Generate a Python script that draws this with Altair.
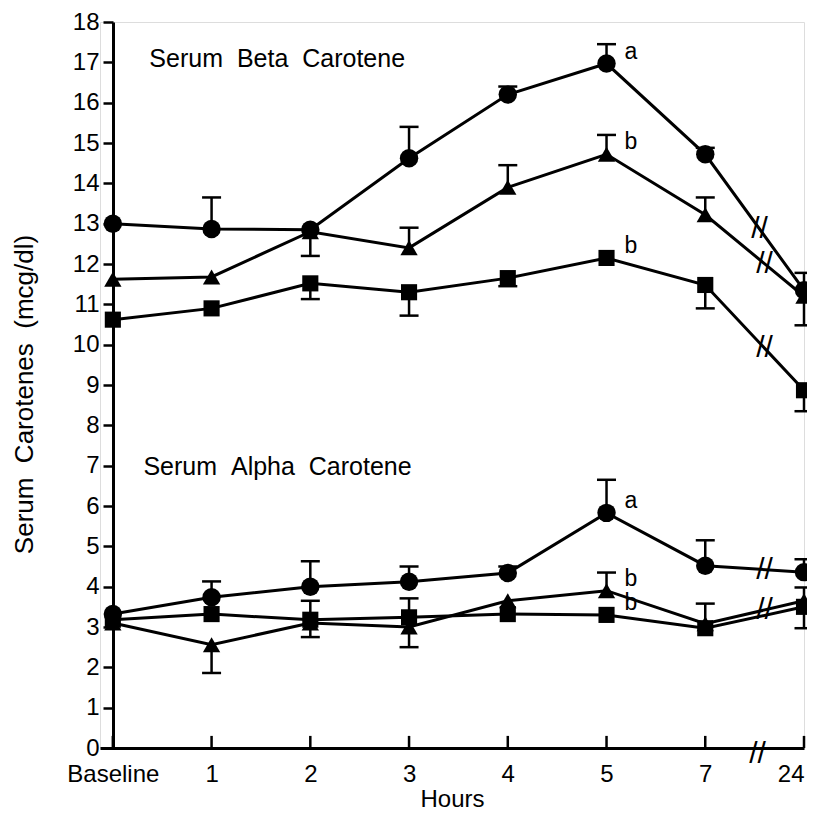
import json
import altair as alt
import pandas as pd

# ---------------- data ----------------
hours = ["Baseline", "1", "2", "3", "4", "5", "7", "24"]

beta_circle = [13.0, 12.87, 12.85, 14.62, 16.2, 16.97, 14.72, 11.35]
beta_triangle = [11.62, 11.68, 12.8, 12.4, 13.9, 14.72, 13.22, 11.2]
beta_square = [10.62, 10.9, 11.52, 11.3, 11.65, 12.15, 11.48, 8.87]

alpha_circle = [3.32, 3.74, 4.0, 4.12, 4.34, 5.83, 4.52, 4.36]
alpha_triangle = [3.1, 2.56, 3.1, 3.0, 3.65, 3.9, 3.08, 3.65]
alpha_square = [3.18, 3.32, 3.18, 3.24, 3.32, 3.3, 2.97, 3.5]

# error bar ends (None = no bar on that side)
beta_circle_hi = [None, 13.65, None, 15.4, 16.4, 17.45, 14.88, 11.78]
beta_circle_lo = [None, None, None, None, None, None, None, 10.48]
beta_triangle_hi = [None, None, None, 12.9, 14.45, 15.2, 13.65, None]
beta_triangle_lo = [None, None, 12.2, None, None, None, None, None]
beta_square_hi = [None, None, None, None, None, None, None, None]
beta_square_lo = [None, None, 11.13, 10.72, 11.45, None, 10.9, 8.35]

alpha_circle_hi = [None, 4.13, 4.63, 4.5, 4.5, 6.65, 5.15, 4.68]
alpha_circle_lo = [None, None, None, None, None, None, None, None]
alpha_triangle_hi = [None, None, 3.65, 3.71, None, 4.35, 3.58, 3.98]
alpha_triangle_lo = [None, 1.86, 2.75, 2.5, None, None, None, 2.97]
alpha_square_hi = [None, None, None, None, None, None, None, None]
alpha_square_lo = [None, None, None, None, None, None, None, None]

# significance letters at 5 h
letter_series = ["beta_circle", "beta_triangle", "beta_square",
                 "alpha_circle", "alpha_triangle", "alpha_square"]
letter_text = ["a", "b", "b", "a", "b", "b"]

# series whose 7 h -> 24 h segment carries a "//" axis-break mark,
# and where along that segment it sits
break_series = ["beta_circle", "beta_triangle", "beta_square",
                "alpha_circle", "alpha_triangle"]
break_frac = [0.55, 0.6, 0.6, 0.6, 0.6]

# ---------------- tables ----------------
series = [
    ("beta_circle", "circle", beta_circle, beta_circle_hi, beta_circle_lo),
    ("beta_triangle", "triangle", beta_triangle, beta_triangle_hi, beta_triangle_lo),
    ("beta_square", "square", beta_square, beta_square_hi, beta_square_lo),
    ("alpha_circle", "circle", alpha_circle, alpha_circle_hi, alpha_circle_lo),
    ("alpha_triangle", "triangle", alpha_triangle, alpha_triangle_hi, alpha_triangle_lo),
    ("alpha_square", "square", alpha_square, alpha_square_hi, alpha_square_lo),
]

pts, bars, caps, breaks = [], [], [], []
vals_by_name = {}
for name, shape, vals, his, los in series:
    vals_by_name[name] = vals
    for i, v in enumerate(vals):
        pts.append({"series": name, "shape": shape, "x": i, "y": v})
        hi, lo = his[i], los[i]
        if hi is not None or lo is not None:
            bars.append({"series": name, "x": i,
                         "lo": lo if lo is not None else v,
                         "hi": hi if hi is not None else v})
        if hi is not None:
            caps.append({"x": i, "y": hi})
        if lo is not None:
            caps.append({"x": i, "y": lo})

for name, t in zip(break_series, break_frac):
    vals = vals_by_name[name]
    breaks.append({"x": 6 + t, "y": vals[6] + t * (vals[7] - vals[6])})
breaks.append({"x": 6.53, "y": -0.15})

letters = [{"x": 5, "y": vals_by_name[s][5], "t": l, "s": s}
           for s, l in zip(letter_series, letter_text)]

df_pts = pd.DataFrame(pts)
df_bars = pd.DataFrame(bars)
df_caps = pd.DataFrame(caps)
df_breaks = pd.DataFrame(breaks)
df_letters = pd.DataFrame(letters)
df_ticks = pd.DataFrame({"x": list(range(len(hours))), "y": 0.0, "y2": 0.3})

GAP = "\u00a0\u00a0"
df_titles = pd.DataFrame({
    "t": [f"Serum{GAP}Beta{GAP}Carotene", f"Serum{GAP}Alpha{GAP}Carotene"],
    "x": [0.37, 0.31], "y": [17.08, 6.96]})

FONT = "Liberation Sans"
label_expr = json.dumps(hours) + "[round(datum.value)]"


def X(field):
    return alt.X(f"{field}:Q",
                 scale=alt.Scale(domain=[-0.13, 7], nice=False, zero=False),
                 axis=alt.Axis(values=list(range(len(hours))), labelExpr=label_expr,
                               ticks=False, grid=False, domainColor="black",
                               domainWidth=3, labelFont=FONT, labelFontSize=24,
                               labelColor="black", labelPadding=14,
                               title="Hours", titleFont=FONT, titleFontSize=24,
                               titleFontWeight="normal", titleColor="black",
                               titlePadding=1))


def Y(field):
    return alt.Y(f"{field}:Q",
                 scale=alt.Scale(domain=[0, 18], nice=False, zero=False),
                 axis=alt.Axis(values=list(range(19)), tickSize=10, tickWidth=2.5,
                               tickColor="black", grid=False, domainColor="black",
                               domainWidth=3, labelFont=FONT, labelFontSize=24,
                               labelColor="black", labelPadding=4, offset=-13,
                               title=f"Serum{GAP}Carotenes{GAP}(mcg/dl)", titleFont=FONT,
                               titleFontSize=26, titleFontWeight="normal",
                               titleColor="black", titlePadding=35, titleY=372))


lines = alt.Chart(df_pts).mark_line(color="black", strokeWidth=3).encode(
    x=X("x"), y=Y("y"), detail="series:N", order="x:Q")

err = alt.Chart(df_bars).mark_rule(color="black", strokeWidth=2.5).encode(
    x=X("x"), y=Y("lo"), y2="hi:Q")

cap = alt.Chart(df_caps).mark_tick(color="black", orient="horizontal",
                                   thickness=2.5, size=19, opacity=1).encode(
    x=X("x"), y=Y("y"))

marks = alt.Chart(df_pts).mark_point(filled=True, color="black", opacity=1).encode(
    x=X("x"), y=Y("y"),
    shape=alt.Shape("shape:N", scale=alt.Scale(domain=["circle", "triangle", "square"],
                                               range=["circle", "triangle-up", "square"]),
                    legend=None),
    size=alt.Size("shape:N", scale=alt.Scale(domain=["circle", "triangle", "square"],
                                             range=[340, 260, 320]),
                  legend=None))

xticks = alt.Chart(df_ticks).mark_rule(color="black", strokeWidth=2.5).encode(
    x=X("x"), y=Y("y"), y2="y2:Q")

brk = alt.Chart(df_breaks).mark_text(text="//", font=FONT, fontSize=30,
                                     color="black").encode(
    x=X("x"), y=Y("y"))

let = alt.Chart(df_letters).mark_text(font=FONT, fontSize=23, color="black",
                                      align="left", dx=18, dy=-12).encode(
    x=X("x"), y=Y("y"), text="t:N")

ttl = alt.Chart(df_titles).mark_text(font=FONT, fontSize=25, color="black",
                                     align="left", baseline="middle").encode(
    x=X("x"), y=Y("y"), text="t:N")

chart = alt.layer(lines, err, cap, xticks, marks, brk, let, ttl).properties(
    width=704, height=726,
    autosize=alt.AutoSizeParams(type="none"),
    padding={"left": 92, "top": 14, "right": 3, "bottom": 64},
).configure_view(stroke=None).configure(background="white")

chart.save("out.html", embed_options={"renderer": "svg", "actions": False})
